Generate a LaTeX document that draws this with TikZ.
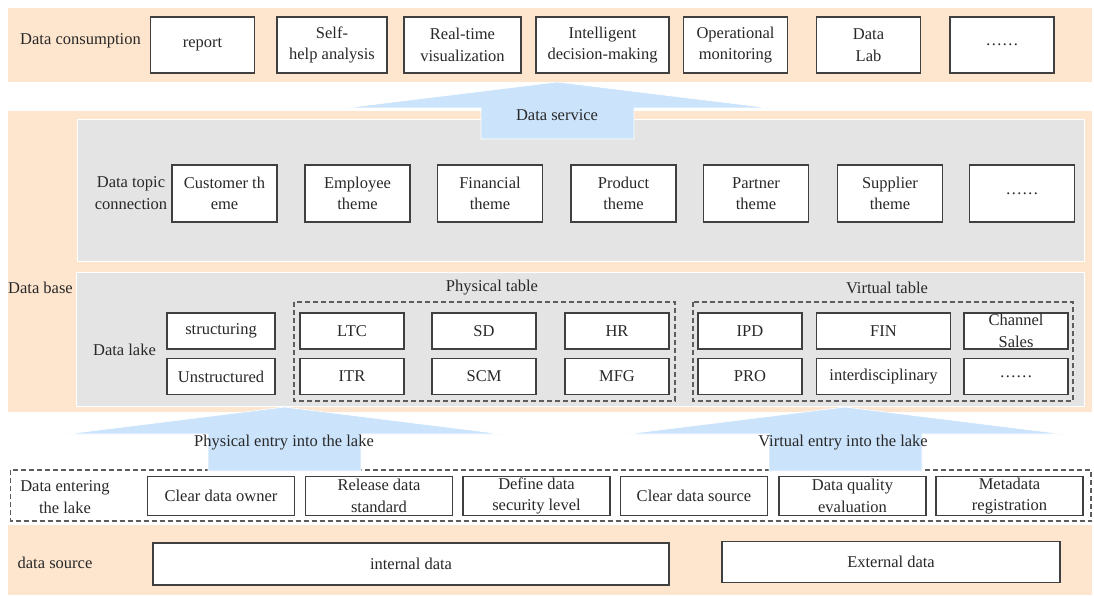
\documentclass[tikz,border=0pt]{standalone}
\usepackage{fontspec}
\setmainfont{Liberation Serif}
\definecolor{bandorange}{RGB}{253,229,206}
\definecolor{panelgray}{RGB}{228,228,228}
\definecolor{arrowblue}{RGB}{204,228,251}
\definecolor{boxline}{RGB}{64,64,64}
\definecolor{labeltext}{RGB}{40,40,40}
\newcommand{\layerfont}{\fontsize{16.5}{21.5}\selectfont}

\begin{document}
\begin{tikzpicture}[x=1pt, y=-1pt,
    every node/.style={font=\layerfont, text=labeltext},
    cell/.style={draw=boxline, fill=white, line width=1.2pt, align=center, inner sep=0pt, minimum width=104pt},
    topcell/.style={cell, minimum height=56pt},
    themecell/.style={cell, minimum height=57pt, minimum width=105pt},
    lakecell/.style={cell, minimum height=36pt},
    entercell/.style={cell, minimum height=39pt, minimum width=147pt},
    groupbox/.style={draw=boxline!85, line width=1.2pt, dash pattern=on 5pt off 3pt},
    layertext/.style={align=center, inner sep=0pt},
    blockarrow/.style={fill=arrowblue, draw=white, line width=0.6pt}]
            \useasboundingbox (0,0) rectangle (1094,596);
            % layers
            \fill[bandorange] (8,8) rectangle (1092,82);
            \fill[bandorange] (8,111) rectangle (1092,412);
            \fill[bandorange] (8,525) rectangle (1092,595);
            \filldraw[fill=panelgray, draw=white, line width=1pt] (77,120) rectangle (1084,261);
            \filldraw[fill=panelgray, draw=white, line width=1pt] (76,272) rectangle (1084,406);
            \draw[groupbox] (294,302) rectangle (675,401);
            \draw[groupbox] (693,302) rectangle (1073,401);
            \draw[groupbox] (10.5,470) rectangle (1091,521);
            % block arrows
            \path[blockarrow] (345,108) -- (557,82) -- (770,108) -- (634,108) -- (634,139) -- (481,139) -- (481,108) -- cycle;
            \path[blockarrow] (67,434) -- (284.5,407) -- (502,434) -- (361,434) -- (361,471) -- (208,471) -- (208,434) -- cycle;
            \path[blockarrow] (627,434) -- (845,407) -- (1063,434) -- (922,434) -- (922,471) -- (769,471) -- (769,434) -- cycle;
            \node(service) at (557,115) {Data service};
            \node(physentry) at (284,443) {Physical entry into the lake};
            \node(virtentry) at (843,443) {Virtual entry into the lake};
            % data consumption
            \node[layertext](consumption) at (80.5,41) {Data consumption};
            \node[topcell](report) at (202.5,45) {report};
            \node[topcell, minimum width=110pt](selfhelp) at (332,45) {Self-\\help analysis};
            \node[topcell, minimum width=117pt](realtime) at (462.5,45) {Real-time\\visualization};
            \node[topcell, minimum width=133pt](decision) at (602.5,45) {Intelligent\\decision-making};
            \node[topcell](monitoring) at (735.5,45) {Operational\\monitoring};
            \node[topcell](datalab) at (868.5,45) {Data\\Lab};
            \node[topcell](consmore) at (1002,45) {\dots\dots};
            % data topic connection
            \node[layertext](database) at (40.5,288) {Data base};
            \node[layertext](topic) at (131,193) {Data topic\\connection};
            \node[themecell](customer) at (224.5,193.5) {Customer th\\eme};
            \node[themecell](employee) at (357.5,193.5) {Employee\\theme};
            \node[themecell](financial) at (490,193.5) {Financial\\theme};
            \node[themecell](product) at (623.5,193.5) {Product\\theme};
            \node[themecell](partner) at (756,193.5) {Partner\\theme};
            \node[themecell](supplier) at (890,193.5) {Supplier\\theme};
            \node[themecell](thememore) at (1022,193.5) {\dots\dots};
            % data lake
            \node[layertext](lake) at (124.5,350) {Data lake};
            \node[layertext](physical) at (492,288) {Physical table};
            \node[layertext](virtual) at (887,288) {Virtual table};
            \node[lakecell, minimum width=108pt](structuring) at (221,331) {structuring};
            \node[lakecell, minimum width=108pt](unstructured) at (221,376.5) {Unstructured};
            \node[lakecell](ltc) at (352,331) {LTC};
            \node[lakecell](sd) at (484,331) {SD};
            \node[lakecell](hr) at (617,331) {HR};
            \node[lakecell](itr) at (352,376.5) {ITR};
            \node[lakecell](scm) at (484,376.5) {SCM};
            \node[lakecell](mfg) at (617,376.5) {MFG};
            \node[lakecell](ipd) at (750,331) {IPD};
            \node[lakecell, minimum width=134pt](fin) at (883.5,331) {FIN};
            \node[lakecell](channel) at (1016,331) {Channel\\Sales};
            \node[lakecell](pro) at (750,376.5) {PRO};
            \node[lakecell, minimum width=134pt](inter) at (883.5,376.5) {interdisciplinary};
            \node[lakecell](lakemore) at (1016,376.5) {\dots\dots};
            % data entering the lake
            \node[layertext](entering) at (65,497) {Data entering\\the lake};
            \node[entercell](owner) at (221,496) {Clear data owner};
            \node[entercell](standard) at (379,496) {Release data\\standard};
            \node[entercell](security) at (536.5,496) {Define data\\security level};
            \node[entercell](source) at (694,496) {Clear data source};
            \node[entercell](quality) at (852.5,496) {Data quality\\evaluation};
            \node[entercell](metadata) at (1009.5,496) {Metadata\\registration};
            % data source
            \node[layertext](datasource) at (55,563) {data source};
            \node[cell, minimum width=516pt, minimum height=42pt](internal) at (411,564) {internal data};
            \node[cell, minimum width=338pt, minimum height=41pt](external) at (891,562) {External data};
        \end{tikzpicture}
\end{document}
